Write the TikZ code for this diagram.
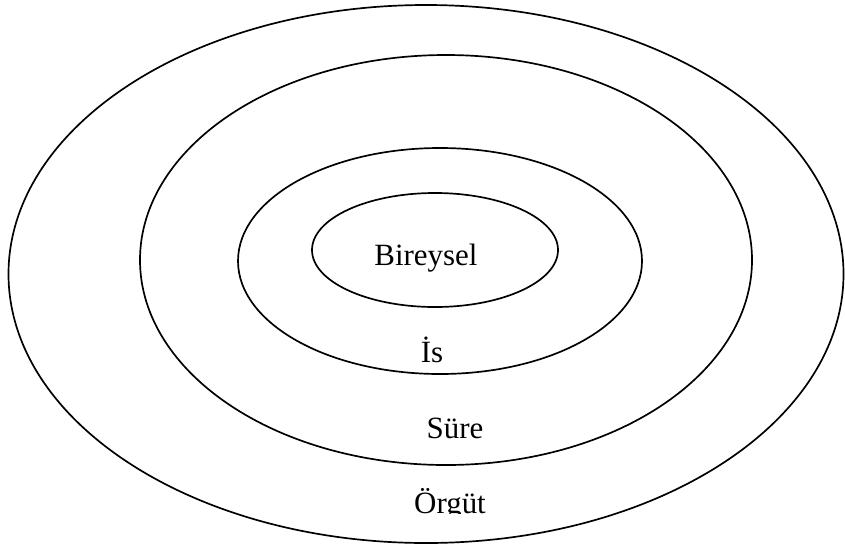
\documentclass[tikz,border=0pt]{standalone}
\usepackage{fontspec}
\setmainfont{Liberation Serif}
\usepackage{tikz}
\usetikzlibrary{shapes.geometric}
\tikzset{
	ring/.style = {shape=ellipse, draw, line width=1.2pt, inner sep=0pt},
	tag/.style = {anchor=base, inner sep=0pt, font=\fontsize{22}{26}\selectfont},
}

\begin{document}
\begin{tikzpicture}[x=0.025cm, y=-0.025cm]
		\useasboundingbox (0, 0) rectangle (845, 547);

		\node[ring, minimum width=835*0.025cm, minimum height=538*0.025cm] (orgut-ring) at (426, 274) {};
		\node[ring, minimum width=612*0.025cm, minimum height=410*0.025cm] (sure-ring) at (446, 260) {};
		\node[ring, minimum width=404*0.025cm, minimum height=226*0.025cm] (is-ring) at (440, 261) {};
		\node[ring, minimum width=246*0.025cm, minimum height=114*0.025cm] (bireysel-ring) at (435, 250) {};

		\node[tag] (bireysel) at (426, 265) {Bireysel};
		\node[tag] (is) at (432, 362) {İs};
		\node[tag] (sure) at (455, 438) {Süre};
		\begin{scope}
			\clip (0, 0) rectangle (845, 513.5);
			\node[tag] (orgut) at (450, 513) {Örgüt};
		\end{scope}
	\end{tikzpicture}
\end{document}
